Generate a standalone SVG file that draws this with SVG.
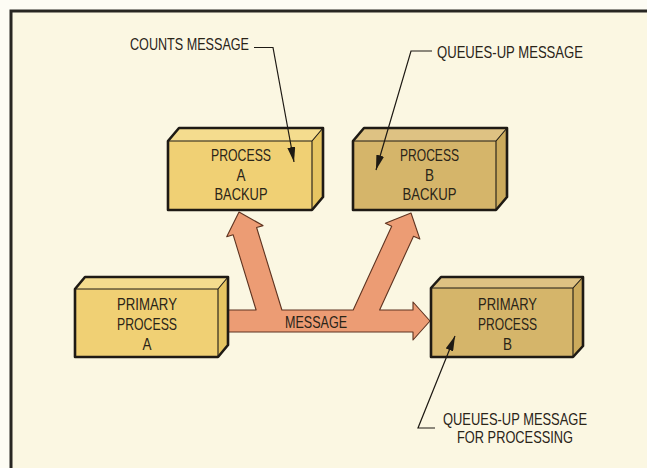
<svg xmlns="http://www.w3.org/2000/svg" width="647" height="468" viewBox="0 0 647 468">
<style>
.t{font-family:"Liberation Sans",Arial,sans-serif;font-size:17px;fill:#2a2418;text-anchor:middle}
.ts{font-family:"Liberation Sans",Arial,sans-serif;font-size:17px;fill:#2a2418}
.out{fill:none;stroke:#1e1a14;stroke-width:2.6;stroke-linejoin:round}
.edge{fill:none;stroke:#1e1a14;stroke-width:1.1}
.ya{fill:#f0d074}.yt{fill:#f4dc8e}.ys{fill:#e6c562}
.ba{fill:#d5b56a}.bt{fill:#dec283}.bs{fill:#cbaa5c}
.lead{fill:none;stroke:#1e1a14;stroke-width:1.2}
</style>
<defs>
<marker id="ah" markerUnits="userSpaceOnUse" markerWidth="16" markerHeight="8" refX="15" refY="4" orient="auto">
<path d="M0,0 L15,4 L0,8 z" fill="#1e1a14"/>
</marker>
</defs>
<rect x="0" y="0" width="647" height="468" fill="#fdfcf4"/>
<rect x="11" y="11" width="636" height="457" fill="#fbf7e2"/>
<path d="M11,468 L11,11 L647,11" fill="none" stroke="#282622" stroke-width="3"/>

<g id="connectors">
<polygon points="220,332 413,332 413,340 430,321 413,302 413,310 379.6,310 413.5,236.2 419.9,239.1 411,213 385.4,223.2 391.7,226.2 353.2,310 281.9,310 256.6,227.5 263,225.6 239,212 226.7,236.7 233.1,234.7 256.1,310 220,310" fill="#ec9c74" stroke="#5e3320" stroke-width="1.1" stroke-linejoin="round"/>
<text class="ts" x="285" y="328" textLength="62" lengthAdjust="spacingAndGlyphs">MESSAGE</text>
</g>

<g id="process-a-backup">
<rect class="ya" x="168" y="141" width="144" height="69"/>
<polygon class="yt" points="168,141 179,128 323,128 312,141"/>
<polygon class="ys" points="312,141 323,128 323,197 312,210"/>
<path class="edge" d="M168,141 H312 L323,128 M312,141 V210"/>
<path class="out" d="M168,141 L179,128 L323,128 L323,197 L312,210 L168,210 Z"/>
<text class="t" x="241" y="161" textLength="60" lengthAdjust="spacingAndGlyphs">PROCESS</text>
<text class="t" x="241" y="181" textLength="9" lengthAdjust="spacingAndGlyphs">A</text>
<text class="t" x="241" y="200" textLength="53" lengthAdjust="spacingAndGlyphs">BACKUP</text>
</g>

<g id="process-b-backup">
<rect class="ba" x="353" y="141" width="143" height="69"/>
<polygon class="bt" points="353,141 364,128 507,128 496,141"/>
<polygon class="bs" points="496,141 507,128 507,197 496,210"/>
<path class="edge" d="M353,141 H496 L507,128 M496,141 V210"/>
<path class="out" d="M353,141 L364,128 L507,128 L507,197 L496,210 L353,210 Z"/>
<text class="t" x="429.5" y="161" textLength="59" lengthAdjust="spacingAndGlyphs">PROCESS</text>
<text class="t" x="429.5" y="181" textLength="9" lengthAdjust="spacingAndGlyphs">B</text>
<text class="t" x="429.5" y="200" textLength="54" lengthAdjust="spacingAndGlyphs">BACKUP</text>
</g>

<g id="primary-process-a">
<rect class="ya" x="75" y="289" width="143" height="68"/>
<polygon class="yt" points="75,289 85,277 228,277 218,289"/>
<polygon class="ys" points="218,289 228,277 228,345 218,357"/>
<path class="edge" d="M75,289 H218 L228,277 M218,289 V357"/>
<path class="out" d="M75,289 L85,277 L228,277 L228,345 L218,357 L75,357 Z"/>
<text class="t" x="147" y="310" textLength="60" lengthAdjust="spacingAndGlyphs">PRIMARY</text>
<text class="t" x="147" y="330" textLength="60" lengthAdjust="spacingAndGlyphs">PROCESS</text>
<text class="t" x="147" y="349.5" textLength="9" lengthAdjust="spacingAndGlyphs">A</text>
</g>

<g id="primary-process-b">
<rect class="ba" x="431" y="288" width="142" height="69"/>
<polygon class="bt" points="431,288 441,277 583,277 573,288"/>
<polygon class="bs" points="573,288 583,277 583,346 573,357"/>
<path class="edge" d="M431,288 H573 L583,277 M573,288 V357"/>
<path class="out" d="M431,288 L441,277 L583,277 L583,346 L573,357 L431,357 Z"/>
<text class="t" x="507.5" y="310" textLength="59" lengthAdjust="spacingAndGlyphs">PRIMARY</text>
<text class="t" x="507.5" y="330" textLength="59" lengthAdjust="spacingAndGlyphs">PROCESS</text>
<text class="t" x="507.5" y="349.5" textLength="9" lengthAdjust="spacingAndGlyphs">B</text>
</g>

<g id="annotations">
<text class="ts" x="130" y="50" textLength="119" lengthAdjust="spacingAndGlyphs">COUNTS MESSAGE</text>
<path class="lead" d="M254,47.5 H273 L294,162" marker-end="url(#ah)"/>
<text class="ts" x="437" y="58" textLength="146" lengthAdjust="spacingAndGlyphs">QUEUES-UP MESSAGE</text>
<path class="lead" d="M432,51 H411 L376,170" marker-end="url(#ah)"/>
<text class="ts" x="443" y="425" textLength="144" lengthAdjust="spacingAndGlyphs">QUEUES-UP MESSAGE</text>
<text class="ts" x="457" y="443" textLength="116" lengthAdjust="spacingAndGlyphs">FOR PROCESSING</text>
<path class="lead" d="M435,428 H418 L455,336" marker-end="url(#ah)"/>
</g>
</svg>
